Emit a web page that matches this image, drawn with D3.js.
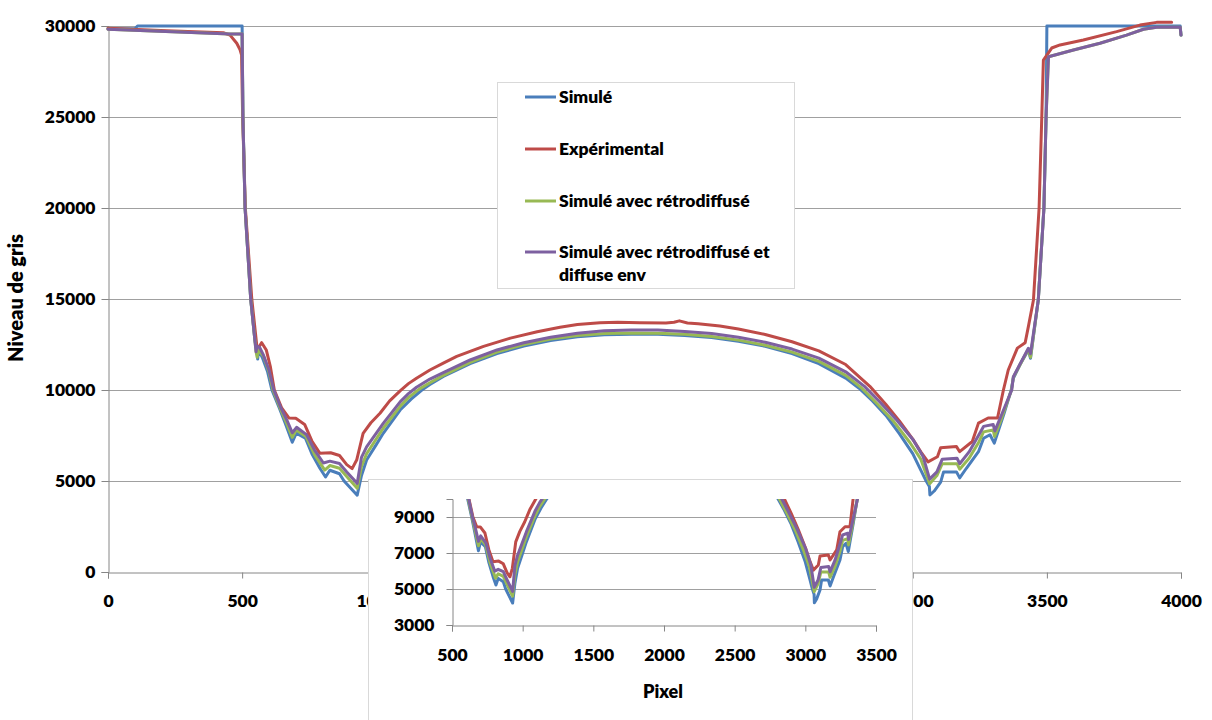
<!DOCTYPE html>
<html><head><meta charset="utf-8">
<script src="https://cdn.jsdelivr.net/npm/d3@7"></script>
<style>
body{margin:0;background:#fff;}
text{font-family:Lato,"Open Sans",sans-serif;font-weight:800;fill:#000;}
</style>
</head><body>
<svg id="c" width="1212" height="720"></svg>
<script>
// ---------- data ----------
const xTicksMain = [0,500,1000,1500,2000,2500,3000,3500,4000];
const yTicksMain = [0,5000,10000,15000,20000,25000,30000];
const xTicksInset = [500,1000,1500,2000,2500,3000,3500];
const yTicksInset = [3000,5000,7000,9000];
const seriesNames = ["Simulé","Expérimental","Simulé avec rétrodiffusé","Simulé avec rétrodiffusé et|diffuse env"];
const seriesColors = ["#4A7EBB","#BE4B48","#98B954","#7D60A0"];

const simuleX = [0,100,110,500,503,511,532,548,555,558,561,575,595,611,639,660,687,702,736,760,790,811,827,863,880,929,
  933,945,964,1000,1026,1089,1130,1170,1200,1250,1350,1450,1550,1650,1750,1850,1950,2050,2150,2250,2350,2450,2550,2650,2750,2800,2850,2900,2950,3000,3030,3050,3062,3064,
  3080,3104,3115,3163,3175,3200,3245,3264,3288,3304,3320,3340,3367,3375,3400,3431,3439,3468,3489,3497,3499,3500,3997,4000];
const simuleY = [29850,29850,30000,30000,25000,20000,15000,12700,12200,11700,12200,11800,11000,10000,9000,8200,7130,7630,7350,6500,5700,5220,5590,5400,5000,4220,
  4500,5300,6150,7000,7620,8900,9500,10000,10300,10750,11450,12000,12420,12720,12920,13030,13070,13060,13000,12880,12680,12400,12000,11450,10650,10100,9400,8600,7600,6500,5600,5000,4700,4230,
  4450,4940,5500,5500,5170,5700,6610,7350,7540,7080,7800,8700,10000,10640,11400,12200,11740,14950,20000,25000,28100,30000,30000,29500];

const expX = [0,219,430,455,480,492,498,502,512,536,555,562,573,590,605,620,648,675,700,733,760,790,830,863,890,910,
  927,951,980,1014,1050,1089,1120,1150,1200,1250,1300,1400,1500,1600,1685,1750,1834,1900,1983,2080,2110,2130,2160,2200,2281,2350,2450,2550,2650,2750,2840,2900,2950,3000,3030,3057,
  3092,3104,3163,3175,3222,3245,3281,3316,3338,3356,3390,3419,3431,3450,3471,3481,3487,3518,3549,3636,3760,3847,3909,3965];
const expY = [29870,29740,29630,29500,29050,28700,28400,25000,20000,15000,12400,12350,12600,12200,11300,10000,9000,8460,8450,8110,7200,6520,6550,6400,5900,5680,
  6150,7620,8200,8720,9400,9950,10350,10650,11100,11480,11850,12400,12850,13200,13450,13600,13700,13720,13700,13680,13720,13800,13680,13640,13520,13350,13050,12650,12150,11400,10200,9200,8300,7300,6600,6050,
  6330,6830,6890,6610,7170,8180,8460,8460,10000,11100,12300,12600,13480,14950,20000,25000,28130,28790,28960,29230,29690,30050,30200,30200];

const retroX = [0,455,500,503,511,532,552,556,560,580,600,615,642,665,687,702,738,770,808,827,863,890,929,
  945,964,1026,1089,1120,1160,1200,1250,1350,1450,1550,1650,1750,1850,1950,2050,2150,2250,2350,2450,2550,2650,2750,2810,2870,2930,2990,3030,3063,
  3090,3110,3165,3175,3210,3245,3264,3300,3305,3330,3368,3375,3431,3439,3468,3489,3497,3506,3599,3698,3797,3860,3909,3997,4000];
const retroY = [29820,29560,29560,25000,20000,15000,12100,11800,12200,11850,11000,10000,9000,8200,7400,7800,7450,6450,5600,5850,5700,5250,4600,
  5800,6500,7900,9100,9580,10050,10400,10800,11520,12080,12500,12800,13000,13100,13130,13120,13060,12940,12740,12460,12080,11570,10800,10100,9200,8250,7100,6200,4850,
  5300,5950,5950,5650,6250,7100,7700,7800,7450,8400,10000,10700,12250,11800,14950,20000,25000,28310,28680,29050,29500,29820,29930,29930,29500];

const envX = [0,455,500,503,511,532,552,556,565,580,600,618,645,668,687,703,740,770,803,827,863,890,929,
  945,964,1026,1089,1120,1150,1200,1250,1350,1450,1550,1650,1750,1850,1950,2050,2150,2250,2350,2450,2550,2650,2750,2820,2880,2940,3002,3039,3063,
  3090,3110,3165,3175,3210,3245,3264,3300,3306,3330,3369,3375,3431,3439,3468,3489,3497,3506,3599,3698,3797,3860,3909,3997,4000];
const envY = [29820,29560,29560,25000,20000,15000,12100,12400,12350,11900,11100,10000,9000,8300,7650,7950,7550,6700,5990,6090,5960,5500,4870,
  6300,6880,8170,9350,9800,10150,10600,10950,11650,12200,12600,12900,13120,13250,13300,13290,13220,13100,12900,12620,12250,11750,11000,10200,9300,8350,7250,6330,5100,
  5500,6200,6250,5950,6600,7500,8000,8100,7750,8600,10000,10730,12290,12000,14950,20000,25000,28310,28680,29050,29500,29820,29930,29930,29500];

const seriesData = [d3.zip(simuleX,simuleY), d3.zip(expX,expY), d3.zip(retroX,retroY), d3.zip(envX,envY)];

// ---------- chart ----------
const svg = d3.select("#c");
const gridColor = "#a0a0a0", axisColor = "#868686";
const fam = "Lato", wt = 800;

const x = d3.scaleLinear().domain([0,4000]).range([108,1181]);
const y = d3.scaleLinear().domain([0,30000]).range([572,26]);

// gridlines
svg.append("g").selectAll("line").data(yTicksMain.filter(d=>d>0)).join("line")
  .attr("x1",x(0)).attr("x2",x(4000))
  .attr("y1",d=>Math.round(y(d))+0.5).attr("y2",d=>Math.round(y(d))+0.5)
  .attr("stroke",gridColor).attr("stroke-width",1);

// axes
const gy = svg.append("g").attr("transform",`translate(${x(0)+0.5},0)`)
  .call(d3.axisLeft(y).tickValues(yTicksMain).tickSize(7).tickPadding(6).tickFormat(d3.format("d")));
const gx = svg.append("g").attr("transform",`translate(0,${y(0)+0.5})`)
  .call(d3.axisBottom(x).tickValues(xTicksMain).tickSize(6).tickPadding(16).tickFormat(d3.format("d")));
[gx,gy].forEach(g=>{
  g.selectAll("path,line").attr("stroke",axisColor);
  g.selectAll("text").attr("font-size",17.5).style("font-family",fam).style("font-weight",wt);
});

svg.append("text").attr("transform","translate(23,298) rotate(-90)")
  .attr("text-anchor","middle").attr("font-size",20).text("Niveau de gris");

// series
const line = d3.line().x(d=>x(d[0])).y(d=>y(d[1]));
svg.append("g").selectAll("path").data(seriesData).join("path")
  .attr("d",line).attr("fill","none")
  .attr("stroke",(d,i)=>seriesColors[i]).attr("stroke-width",3)
  .attr("stroke-linejoin","round").attr("stroke-linecap","round");

// legend
const lg = svg.append("g");
lg.append("rect").attr("x",497.5).attr("y",82.5).attr("width",297).attr("height",206)
  .attr("fill","#fff").attr("stroke","#d9d9d9");
const legY = [97,149,201,252];
seriesNames.forEach((n,i)=>{
  lg.append("line").attr("x1",525).attr("x2",556).attr("y1",legY[i]).attr("y2",legY[i])
    .attr("stroke",seriesColors[i]).attr("stroke-width",3);
  const parts = n.split("|");
  parts.forEach((p,j)=>{
    lg.append("text").attr("x",559).attr("y",legY[i]+6+j*23).attr("font-size",17.5).text(p);
  });
});

// ---------- inset ----------
const ins = svg.append("g");
ins.append("rect").attr("x",368.5).attr("y",479.5).attr("width",544).attr("height",260)
  .attr("fill","#fff").attr("stroke","#d9d9d9");
const xi = d3.scaleLinear().domain([500,3500]).range([452,876]);
const yi = d3.scaleLinear().domain([3000,10000]).range([625,499]);
ins.append("g").selectAll("line").data(yTicksInset.filter(d=>d>3000)).join("line")
  .attr("x1",xi(500)).attr("x2",xi(3500))
  .attr("y1",d=>Math.round(yi(d))+0.5).attr("y2",d=>Math.round(yi(d))+0.5)
  .attr("stroke",gridColor);
const giy = ins.append("g").attr("transform",`translate(${xi(500)+0.5},0)`)
  .call(d3.axisLeft(yi).tickValues(yTicksInset).tickSize(6).tickPadding(12).tickFormat(d3.format("d")));
const gix = ins.append("g").attr("transform",`translate(0,${Math.round(yi(3000))+0.5})`)
  .call(d3.axisBottom(xi).tickValues(xTicksInset).tickSize(6).tickPadding(17).tickFormat(d3.format("d")));
[gix,giy].forEach(g=>{
  g.selectAll("path,line").attr("stroke",axisColor);
  g.selectAll("text").attr("font-size",17.5).style("font-family",fam).style("font-weight",wt);
});
ins.append("text").attr("x",663).attr("y",698).attr("text-anchor","middle").attr("font-size",18).text("Pixel");

svg.append("defs").append("clipPath").attr("id","clipI").append("rect")
  .attr("x",xi(500)).attr("y",yi(10000)).attr("width",xi(3500)-xi(500)).attr("height",yi(3000)-yi(10000));
const linei = d3.line().x(d=>xi(d[0])).y(d=>yi(d[1]));
ins.append("g").attr("clip-path","url(#clipI)").selectAll("path").data(seriesData).join("path")
  .attr("d",linei).attr("fill","none")
  .attr("stroke",(d,i)=>seriesColors[i]).attr("stroke-width",3)
  .attr("stroke-linejoin","round").attr("stroke-linecap","round");
</script>
</body></html>
